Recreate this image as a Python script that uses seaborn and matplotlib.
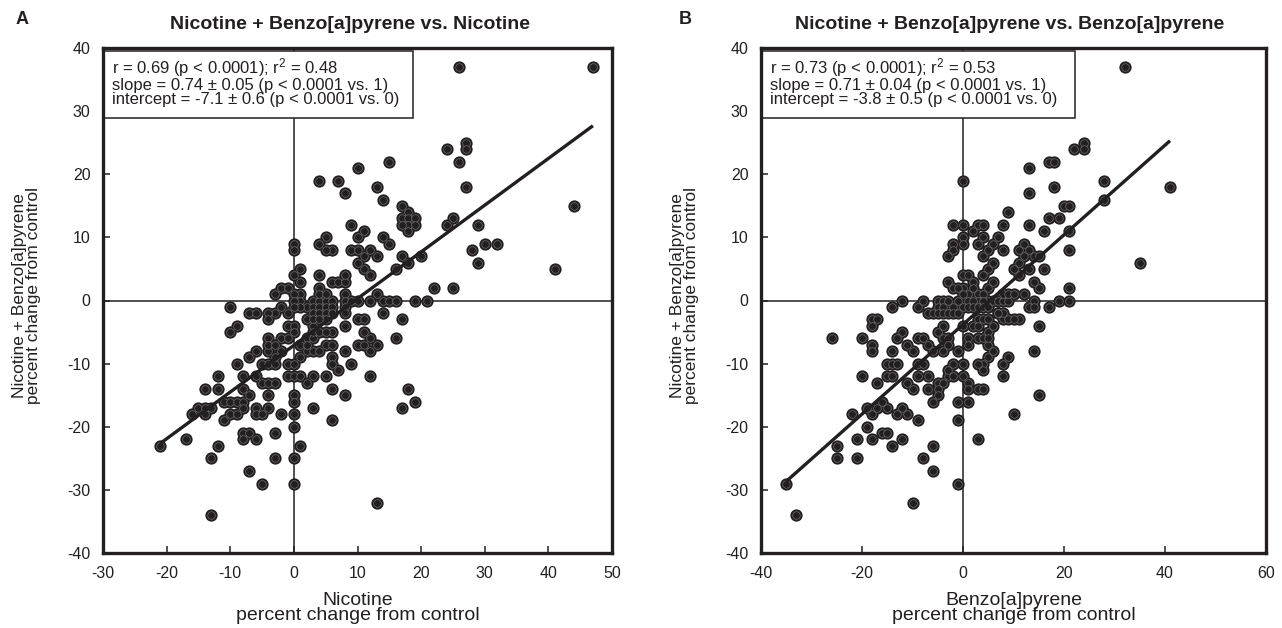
import matplotlib
matplotlib.use("Agg")
import matplotlib.pyplot as plt
import seaborn as sns
import pandas as pd
from matplotlib.patches import Rectangle

sns.set_theme(style="white")
plt.rcParams['font.family'] = ['Liberation Sans', 'DejaVu Sans']
plt.rcParams['axes.unicode_minus'] = False
plt.rcParams['mathtext.fontset'] = 'custom'
plt.rcParams['mathtext.rm'] = 'Liberation Sans'
plt.rcParams['mathtext.it'] = 'Liberation Sans'

# ---------------- data ----------------
nic_x = [26, 47, 24, 27, 27, 26, 27, 15, 10, 4, 7, 8, 13, 14, 17, 18, 17, 18, 19, 18, 19, 18, 17,
         24, 25, 29, 44, 41, 28, 30, 32, 29, 20, 17, 18, 16, 22, 25, 9, 11, 10, 14, 15, 4, 5, 6, 5,
         0, 0, 9, 10, 11, 10, 12, 13, 11, 12, 0, 1, 1, 4, 4, 6, 7, 8, 8, -3, -2, -1, 1, 0, 13, 8,
         1, 3, 4, 5, 6, 8, 9, 10, 12, 14, 15, 16, 19, 21, 0, 2, 3, 4, 5, 6, 3, 4, 5, 4, 5, 6,
         -10, -7, -6, -3, -2, -1, -4, 1, 0, 2, 3, 5, 8, 8, 10, 11, 14, 17, 16, -10, -9, -4, -4, -1,
         0, -2, -1, 0, 6, 5, 6, 8, 11, 12, 13, 10, 11, 8, 12, -7, -6, -4, -2, -4, -3, 1, 2, 3, 4,
         2, 3, 3, 4, 5, 2, -9, -5, -4, -3, -1, 0, 1, 6, 6, 7, 9, -12, -8, -6, -1, 0, 1, 3, 5, 12,
         2, -5, -4, -3, -14, -12, -8, 6, 18, -7, -4, 0, 8, 0, 19, -11, -10, -9, -8, -15, -14, -13,
         -8, -6, -4, 3, 17, -16, -14, -10, -9, -6, -5, -2, 0, -11, 6, 0, -8, -7, -3, -8, -6, -17,
         -21, -12, 1, -13, -3, 0, -7, -5, 0, 13, -13, -3, 3, 4]
nic_y = [37, 37, 24, 25, 24, 22, 18, 22, 21, 19, 19, 17, 18, 16, 15, 14, 13, 13, 13, 12, 12, 11, 12,
         12, 13, 12, 15, 5, 8, 9, 9, 6, 7, 7, 6, 5, 2, 2, 12, 11, 10, 10, 9, 9, 10, 8, 8,
         9, 8, 8, 8, 7, 6, 8, 7, 5, 4, 4, 5, 3, 4, 2, 3, 3, 3, 4, 1, 2, 2, 1, 1, 1, 1,
         0, 0, 0, 0, 0, 0, 0, 0, 0, 0, 0, 0, 0, 0, 0, -1, -1, -1, -1, -1, -2, -2, -2, 1, 1, -2,
         -1, -2, -2, -2, -1, -2, -2, -1, -1, -3, -4, -3, -1, -2, -3, -3, -2, -3, -6, -5, -4, -3, -6, -4,
         -4, -6, -6, -5, -5, -7, -7, -4, -5, -6, -7, -7, -7, -8, -8, -9, -8, -8, -8, -7, -7, -7, -8, -8, -8,
         -6, -6, -5, -5, -5, -7, -10, -10, -10, -10, -10, -10, -9, -9, -10, -11, -10, -12, -12, -12, -12, -12, -12, -12, -12, -12,
         -13, -13, -13, -13, -14, -14, -14, -14, -14, -15, -15, -15, -15, -16, -16, -16, -16, -16, -16, -17, -17, -17,
         -17, -17, -17, -17, -17, -18, -18, -18, -18, -18, -18, -18, -18, -19, -19, -20, -21, -21, -21, -22, -22, -22,
         -23, -23, -23, -25, -25, -25, -27, -29, -29, -32, -34, -9, -3, -3]

bap_x = [32, 22, 24, 24, 17, 18, 13, 18, 13, 28, 28, 41, 35, 20, 21, 17, 19, 9, 8, 13, 16, 21, 21,
         21, 21, 19, 17, 0, -2, 0, 0, 0, -2, -2, -3, 3, 4, 2, 3, 4, 6, 7, 5, 4, 6, 5, 4, 8, 12,
         13, 14, 15, 12, 11, 16, 10, 11, 13, 11, 14, 15, 0, 1, 0, -3, -2, -1, 1, 2, 2, 3, 4, 5, 6,
         5, 6, 7, 8, 9, 8, 9, 12, 10, 14, 13, 14, 3, 0, 1, 2, 4,
         -14, -12, -8, -9, -5, -4, -3, -5, -4, -1, -2, 0, 1, 2, 3, 4, 5,
         -18, -18, -17, 15, 11, 8, 9, 10, 7, 8, -26, -20, -18, -18, -7, -6, -5, -4, -3, -2, -1,
         -12, -13, -11, -10, -9, -8, -14, -15, -14, -13, -9, -8, -20, -17, -15, -14, -9, -7, -11, -10,
         -7, -5, -4, -3, -2, -5, -5, -6, -3, -2, -1, 0, 0, 1, 1, -1, -1, 1, 3, 4, 4, 5, 4, 3, 8, 9,
         8, 5, 6, 14, 15, 10, 3, -22, -19, -18, -17, -16, -15, -13, -12, -11, -9, -19, -16, -15, -21,
         -18, -14, -12, -25, -25, -21, -6, -8, -6, -1, -10, -35, -33, -4, -5, -4, -3, -7, -6, -4, -3,
         1, 1, 0, 3, 4, 5, 5, 3, 4, 5, 7, 2, 3, 6]
bap_y = [37, 24, 25, 24, 22, 22, 21, 18, 17, 19, 16, 18, 6, 15, 15, 13, 13, 14, 12, 12, 11, 11, 8,
         2, 0, 0, -1, 19, 12, 12, 10, 9, 9, 8, 7, 12, 12, 11, 9, 10, 9, 10, 8, 7, 6, 5, 4, 8, 9,
         8, 7, 7, 7, 6, 5, 5, 4, 5, 8, 3, 2, 4, 4, 2, 3, 2, 2, 1, 3, 2, 1, 1, 2, 3,
         0, 0, 0, 0, 0, 1, 1, 1, 1, 0, -1, -1, 0, 1, 0, 0, 0,
         -1, 0, 0, -1, 0, 0, 0, -1, -1, 0, -1, -1, -1, -1, -1, -1, -1,
         -3, -4, -3, -4, -3, -3, -3, -3, -2, -2, -6, -6, -7, -8, -2, -2, -2, -2, -2, -2, -2,
         -5, -6, -7, -8, -6, -6, -8, -10, -10, -10, -10, -10, -12, -13, -12, -12, -12, -12, -13, -14,
         -14, -13, -13, -12, -12, -14, -15, -16, -11, -10, -8, -10, -12, -13, -16, -16, -19, -14, -14, -14, -10, -9, -11, -10,
         -10, -9, -12, -7, -8, -8, -15, -18, -22, -18, -17, -18, -17, -16, -17, -18, -17, -18, -19, -20, -21, -21, -22,
         -22, -23, -22, -23, -25, -25, -23, -25, -27, -29, -32, -29, -34, -4, -5, -6, -6, -7, -8, -8, -7,
         -6, -7, -4, -6, -6, -5, -6, -3, -3, -3, -2, -4, -4, -4]

# regression results printed in the reference
slopes = [0.74, 0.71]
intercepts = [-7.1, -3.8]
stat_texts = [
    "r = 0.69 (p < 0.0001); r$^2$ = 0.48\nslope = 0.74 \u00b1 0.05 (p < 0.0001 vs. 1)\nintercept = -7.1 \u00b1 0.6 (p < 0.0001 vs. 0)",
    "r = 0.73 (p < 0.0001); r$^2$ = 0.53\nslope = 0.71 \u00b1 0.04 (p < 0.0001 vs. 1)\nintercept = -3.8 \u00b1 0.5 (p < 0.0001 vs. 0)",
]
titles = ["Nicotine + Benzo[a]pyrene vs. Nicotine", "Nicotine + Benzo[a]pyrene vs. Benzo[a]pyrene"]
xlabels = ["Nicotine\npercent change from control", "Benzo[a]pyrene\npercent change from control"]
ylabel = "Nicotine + Benzo[a]pyrene\npercent change from control"
panel_letters = ["A", "B"]
x_ticks = [[-30, -20, -10, 0, 10, 20, 30, 40, 50], [-40, -20, 0, 20, 40, 60]]
y_ticks = [-40, -30, -20, -10, 0, 10, 20, 30, 40]

INK = '#231f20'

fig = plt.figure(figsize=(12.82, 6.28), dpi=100)
axA = fig.add_axes([103/1282, 1 - 553/628, 509/1282, 505/628])
axB = fig.add_axes([761/1282, 1 - 553/628, 505/1282, 505/628])
axes = [axA, axB]
datasets = [pd.DataFrame({'x': nic_x, 'y': nic_y}), pd.DataFrame({'x': bap_x, 'y': bap_y})]
box_w = [0.609, 0.622]
letter_x = [16/1282, 679/1282]
title_x = [0.485, 0.492]

for i, ax in enumerate(axes):
    df = datasets[i]
    ax.set_facecolor('white')
    ax.axhline(0, color=INK, lw=1.1, zorder=1)
    ax.axvline(0, color=INK, lw=1.1, zorder=1)
    ax.add_patch(Rectangle((0.0, 0.862), box_w[i], 0.132, transform=ax.transAxes,
                           facecolor='white', edgecolor=INK, lw=1.1, zorder=2))
    ax.text(0.018, 0.984, stat_texts[i], transform=ax.transAxes, ha='left', va='top',
            fontsize=12, color=INK, linespacing=0.93, zorder=3)
    sns.scatterplot(data=df, x='x', y='y', ax=ax, s=78, color=INK, edgecolor=INK,
                    linewidth=0, zorder=4, legend=False)
    sns.scatterplot(data=df, x='x', y='y', ax=ax, s=30, color=INK, edgecolor='#6f6f6f',
                    linewidth=0.5, zorder=5, legend=False)
    x0, x1 = min(df['x']), max(df['x'])
    ax.plot([x0, x1], [intercepts[i] + slopes[i] * x0, intercepts[i] + slopes[i] * x1],
            color=INK, lw=2.4, zorder=6, solid_capstyle='butt')
    ax.set_xlim(x_ticks[i][0], x_ticks[i][-1])
    ax.set_ylim(-40, 40)
    ax.set_xticks(x_ticks[i])
    ax.set_yticks(y_ticks)
    ax.tick_params(direction='in', length=5, width=1.1, colors=INK, labelsize=11.5,
                   labelcolor=INK)
    ax.tick_params(axis='x', bottom=True, top=False, pad=9)
    ax.tick_params(axis='y', left=True, right=False, pad=9)
    for sp in ax.spines.values():
        sp.set_visible(True)
        sp.set_color(INK)
        sp.set_linewidth(2.4)
    ax.set_xlabel(xlabels[i], fontsize=14, color=INK, labelpad=8, linespacing=0.85)
    ax.set_ylabel(ylabel, fontsize=12.5, color=INK, linespacing=0.92)
    ax.yaxis.set_label_coords(-0.122, 0.51)
    ax.set_title(titles[i], fontsize=14, fontweight='bold', color=INK, pad=14, x=title_x[i])
    fig.text(letter_x[i], 1 - 20/628, panel_letters[i], fontsize=13, fontweight='bold',
             color=INK, va='center', ha='left')

fig.savefig('out.png', dpi=100)
